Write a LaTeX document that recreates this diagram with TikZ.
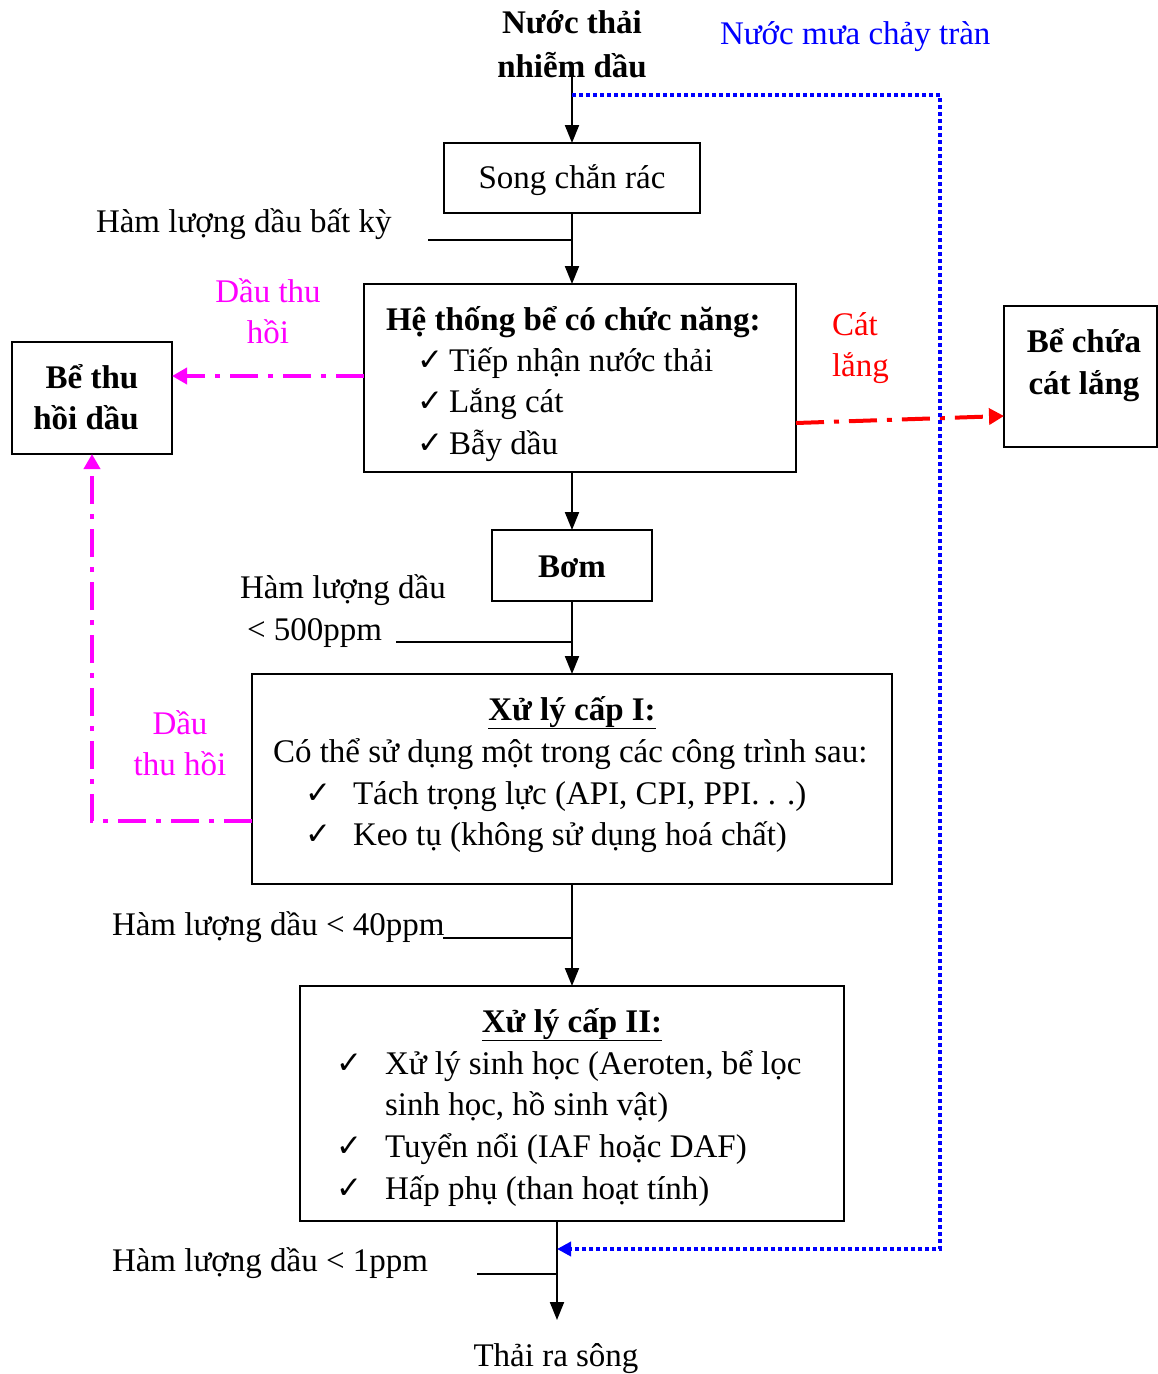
\documentclass[tikz,border=0pt]{standalone}
\usepackage{fontspec}
\setmainfont{Liberation Serif}
\newfontfamily\symfont{DejaVu Sans}
\usetikzlibrary{arrows.meta}
\definecolor{rainblue}{RGB}{0,0,255}
\definecolor{oilpink}{RGB}{255,0,255}
\definecolor{sandred}{RGB}{255,0,0}
\newcommand{\tick}{{\symfont\bfseries\fontsize{31}{31}\selectfont ✓}}
\tikzset{
  box/.style={draw, line width=2pt, inner sep=0pt, outer sep=0pt},
  txt/.style={anchor=base west, inner sep=0pt, outer sep=0pt, font=\fontsize{33}{41.5}\selectfont},
  ctxt/.style={anchor=base, inner sep=0pt, outer sep=0pt, font=\fontsize{33}{41.5}\selectfont},
  flow/.style={line width=2pt, -{Triangle[length=18pt,width=14pt]}},
  tap/.style={line width=1.6pt},
  oil/.style={oilpink, line width=4pt, dash pattern=on 28pt off 10pt on 5pt off 10pt,
              -{Triangle[length=15pt,width=16pt]}},
  sand/.style={sandred, line width=4pt, dash pattern=on 28pt off 10pt on 5pt off 10pt,
              -{Triangle[length=15pt,width=16pt]}},
  rain/.style={rainblue, line width=4pt, dash pattern=on 4pt off 3pt,
              -{Triangle[length=14pt,width=14pt]}},
}
\begin{document}
\begin{tikzpicture}[x=1pt, y=-1pt]
  \useasboundingbox (0,0) rectangle (1158,1374);

  % boxes of the treatment line
  \node[box, minimum width=256, minimum height=70] (song) at (572,178) {};
  \node[box, minimum width=432, minimum height=188] (he) at (580,378) {};
  \node[box, minimum width=160, minimum height=112] (bthd) at (92,398) {};
  \node[box, minimum width=153, minimum height=141] (bccl) at (1080.5,376.5) {};
  \node[box, minimum width=160, minimum height=71] (bom) at (572,565.5) {};
  \node[box, minimum width=640, minimum height=210] (xl1) at (572,779) {};
  \node[box, minimum width=544, minimum height=235] (xl2) at (572,1103.5) {};

  % texts
  \node[ctxt, font=\fontsize{33}{41.5}\selectfont\bfseries] (t1) at (572,33) {Nước thải};
  \node[ctxt, font=\fontsize{33}{41.5}\selectfont\bfseries] (t2) at (572,77) {nhiễm dầu};
  \node[txt, rainblue] (train) at (720,44) {Nước mưa chảy tràn};
  \node[ctxt] (tsong) at (572,188) {Song chắn rác};
  \node[txt] (tbk) at (96,232) {Hàm lượng dầu bất kỳ};

  \node[ctxt, oilpink] (td1) at (268,302) {Dầu thu};
  \node[ctxt, oilpink] (td2) at (268,343) {hồi};
  \node[ctxt, font=\fontsize{33}{41.5}\selectfont\bfseries] (tb1) at (92,388) {Bể thu};
  \node[ctxt, font=\fontsize{33}{41.5}\selectfont\bfseries] (tb2) at (86,429) {hồi dầu};

  \node[txt, font=\fontsize{33}{41.5}\selectfont\bfseries] (the) at (386,330) {Hệ thống bể có chức năng:};
  \node[txt] (ck1) at (417,370) {\tick};
  \node[txt] (th1) at (449,371) {Tiếp nhận nước thải};
  \node[txt] (ck2) at (417,411) {\tick};
  \node[txt] (th2) at (449,412) {Lắng cát};
  \node[txt] (ck3) at (417,453) {\tick};
  \node[txt] (th3) at (449,454) {Bẫy dầu};

  \node[txt, sandred] (tc1) at (832,335) {Cát};
  \node[txt, sandred] (tc2) at (832,376) {lắng};
  \node[ctxt, font=\fontsize{33}{41.5}\selectfont\bfseries] (tbc1) at (1084,352) {Bể chứa};
  \node[ctxt, font=\fontsize{33}{41.5}\selectfont\bfseries] (tbc2) at (1084,394) {cát lắng};

  \node[ctxt, font=\fontsize{33}{41.5}\selectfont\bfseries] (tbom) at (572,577) {Bơm};
  \node[txt] (t500a) at (240,598) {Hàm lượng dầu};
  \node[txt] (t500b) at (247,640) {< 500ppm};

  \node[ctxt, font=\fontsize{33}{41.5}\selectfont\bfseries] (tx1) at (572,720) {\underline{Xử lý cấp I:}};
  \node[txt] (tx1a) at (273,762) {Có thể sử dụng một trong các công trình sau:};
  \node[txt] (ck4) at (305,803) {\tick};
  \node[txt] (tx1b) at (353,804) {Tách trọng lực (API, CPI, PPI. . .)};
  \node[txt] (ck5) at (305,844) {\tick};
  \node[txt] (tx1c) at (353,845) {Keo tụ (không sử dụng hoá chất)};

  \node[ctxt, oilpink] (td3) at (180,734) {Dầu};
  \node[ctxt, oilpink] (td4) at (180,775) {thu hồi};

  \node[txt] (t40) at (112,935) {Hàm lượng dầu < 40ppm};

  \node[ctxt, font=\fontsize{33}{41.5}\selectfont\bfseries] (tx2) at (572,1032) {\underline{Xử lý cấp II:}};
  \node[txt] (ck6) at (336,1073) {\tick};
  \node[txt] (tx2a) at (385,1074) {Xử lý sinh học (Aeroten, bể lọc};
  \node[txt] (tx2b) at (385,1115) {sinh học, hồ sinh vật)};
  \node[txt] (ck7) at (336,1156) {\tick};
  \node[txt] (tx2c) at (385,1157) {Tuyển nổi (IAF hoặc DAF)};
  \node[txt] (ck8) at (336,1198) {\tick};
  \node[txt] (tx2d) at (385,1199) {Hấp phụ (than hoạt tính)};

  \node[txt] (t1p) at (112,1271) {Hàm lượng dầu < 1ppm};
  \node[ctxt] (tsong2) at (556,1366) {Thải ra sông};

  % free ends of the connectors
  \coordinate (inflow) at (572,77);
  \coordinate (rainTop) at (572,95);
  \coordinate (rainCorner) at (940,1249);
  \coordinate (rainEnd) at (557,1249);
  \coordinate (river) at (557,1320);
  \coordinate (tapA) at (428,240);
  \coordinate (tapB) at (396,642);
  \coordinate (tapC) at (443,938);
  \coordinate (tapD) at (477,1274);
  \coordinate (oilA) at (364,376);
  \coordinate (oilB) at (252,821);
  \coordinate (sandA) at (796,423);
  \coordinate (sandB) at (1004,416);

  % main flow
  \draw[flow] (inflow) -- (song.north);
  \draw[flow] (song.south) -- (song.south |- he.north);
  \draw[flow] (song.south |- he.south) -- (bom.north);
  \draw[flow] (bom.south) -- (xl1.north);
  \draw[flow] (xl1.south) -- (xl2.north);
  \draw[flow] (river |- xl2.south) -- (river);

  % oil content taps
  \draw[tap] (tapA) -- (tapA -| song.south);
  \draw[tap] (tapB) -- (tapB -| bom.south);
  \draw[tap] (tapC) -- (tapC -| xl1.south);
  \draw[tap] (tapD) -- (tapD -| river);

  % recovered oil
  \draw[oil] (oilA) -- (oilA -| bthd.east);
  \draw[oil] (oilB) -| (bthd.south);

  % settled sand
  \draw[sand] (sandA) -- (sandB);

  % storm water bypass
  \draw[rain] (rainTop) -| (rainCorner) -- (rainEnd);
\end{tikzpicture}
\end{document}
